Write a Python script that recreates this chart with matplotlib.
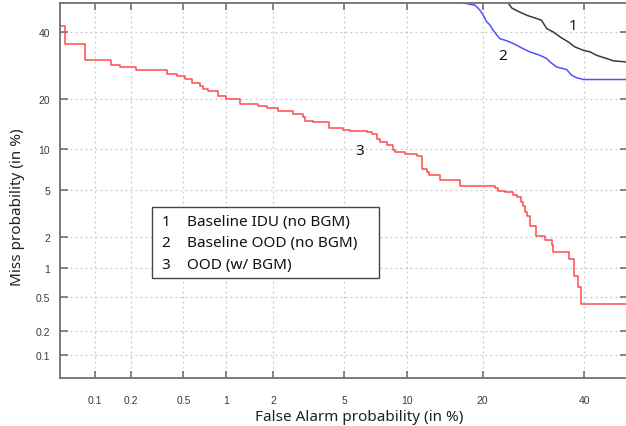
import numpy as np
import matplotlib
matplotlib.use('Agg')
import matplotlib.pyplot as plt
from matplotlib.patches import Rectangle
from matplotlib.ticker import NullLocator
from statistics import NormalDist

# DET curves, values in %
# 1: Baseline IDU (no BGM)
fa_idu = [24.4, 25.0, 26.2, 27.9, 29.8, 30.8, 31.9, 33.2, 34.7, 36.5, 37.9,
          39.8, 41.3, 42.8, 45.1, 46.6, 50]
miss_idu = [50, 48.3, 47.1, 45.7, 44.6, 44.0, 41.1, 40.0, 38.3, 36.6, 35.0,
            33.9, 33.4, 32.3, 31.3, 30.6, 30.2]

# 2: Baseline OOD (no BGM)
fa_ood = [17.0, 18.8, 19.55, 20.1, 20.6, 21.2, 21.75, 22.3, 22.9, 23.8, 24.7,
          26.0, 27.2, 28.5, 30.5, 31.9, 32.6, 34.0, 36.1, 37.2, 38.3, 39.8, 50]
miss_ood = [50, 49.2, 47.5, 45.7, 43.6, 42.3, 40.5, 39.1, 37.7, 37.2, 36.6,
            35.5, 34.4, 33.4, 32.3, 31.3, 30.2, 28.7, 28.0, 26.3, 25.6, 25.1, 25.1]

# 3: OOD (w/ BGM)
fa_bgm = [0.05, 0.055, 0.083, 0.137, 0.164, 0.22, 0.376, 0.45, 0.51, 0.58,
          0.66, 0.69, 0.75, 0.88, 1.0, 1.23, 1.6, 1.82, 2.13, 2.62,
          3.0, 3.06, 3.41, 4.17, 4.95, 5.36, 6.55, 6.88, 7.27, 7.54,
          8.1, 8.64, 8.85, 9.81, 11.04, 11.6, 12.17, 12.44, 13.8, 16.5,
          22.04, 22.6, 23.8, 25.2, 25.95, 26.76, 27.08, 27.53, 27.97, 28.5,
          29.7, 31.5, 32.9, 33.1, 36.6, 37.7, 38.7, 39.3, 50]
miss_bgm = [42.1, 35.8, 30.7, 29.2, 28.7, 27.7, 26.7, 26.1, 25.3, 24.1,
            23.3, 22.6, 21.9, 20.7, 20.0, 18.8, 18.3, 17.8, 17.1, 16.6,
            15.8, 15.1, 14.9, 13.6, 13.3, 13.0, 12.9, 12.5, 11.7, 11.2,
            10.6, 9.8, 9.5, 9.2, 9.0, 7.3, 6.9, 6.6, 6.0, 5.4,
            5.2, 4.98, 4.83, 4.6, 4.41, 4.01, 3.76, 3.35, 3.1, 2.53,
            2.05, 1.88, 1.68, 1.43, 1.23, 0.82, 0.63, 0.41, 0.41]

tick_vals = [0.1, 0.2, 0.5, 1, 2, 5, 10, 20, 40]
tick_labels = ['0.1', '0.2', '0.5', '1', '2', '5', '10', '20', '40']

curve_nums = ['1', '2', '3']
curve_names = ['Baseline IDU (no BGM)', 'Baseline OOD (no BGM)', 'OOD (w/ BGM)']
# where the curve numbers sit (FA %, Miss %)
num_fa = [37.6, 23.4, 6.0]
num_miss = [42.3, 32.3, 9.8]

# probit scale (normal deviate), no scipy needed
nd = NormalDist()

def _fwd(p):
    if np.isnan(p):
        return np.nan
    p = min(max(p / 100.0, 1e-9), 1 - 1e-9)
    return nd.inv_cdf(p)

def _inv(z):
    if np.isnan(z):
        return np.nan
    return nd.cdf(z) * 100.0

probit = np.vectorize(_fwd, otypes=[float])
unprobit = np.vectorize(_inv, otypes=[float])

plt.rcParams['font.family'] = ['Noto Sans', 'DejaVu Sans']

fig = plt.figure(figsize=(6.26, 4.27), dpi=100)
ax = fig.add_axes([60 / 626, 48 / 427, 568 / 626, 375 / 427])
ax.set_xscale('function', functions=(probit, unprobit))
ax.set_yscale('function', functions=(probit, unprobit))

ax.plot(fa_idu, miss_idu, color='#3a3a3a', lw=1.1)
ax.plot(fa_ood, miss_ood, color='#5050ff', lw=1.1)
ax.step(fa_bgm, miss_bgm, where='post', color='#ff4a4a', lw=1.1)

ax.set_xlim(0.05, 50)
ax.set_ylim(0.05, 50)
ax.set_xticks(tick_vals)
ax.set_xticklabels(tick_labels, family='Liberation Sans')
ax.set_yticks(tick_vals)
ax.set_yticklabels(tick_labels, family='Liberation Sans')
ax.xaxis.set_minor_locator(NullLocator())
ax.yaxis.set_minor_locator(NullLocator())

ax.grid(True, color='#c8c8c8', linestyle=(0, (1.5, 2.5)), lw=0.9)
ax.tick_params(direction='in', top=True, right=True, length=5, width=1.1,
               color='#666666', labelsize=7.5, labelcolor='#3a3a3a')
ax.tick_params(axis='x', pad=12)
ax.tick_params(axis='y', pad=7, length=5.5)
for s in ax.spines.values():
    s.set_color('#707070')
    s.set_linewidth(1.3)

ax.set_xlabel('False Alarm probability (in %)', fontsize=11, color='#222222')
ax.set_ylabel('Miss probability (in %)', fontsize=11, color='#222222')
ax.xaxis.set_label_coords((359.5 - 60) / 568, -0.104)
ax.xaxis.label.set_va('center')
ax.yaxis.set_label_coords((17.5 - 60) / 568, (379 - 207) / 375)
ax.yaxis.label.set_va('center')

for n, x, y in zip(curve_nums, num_fa, num_miss):
    ax.text(x, y, n, fontsize=11, ha='center', va='center', color='#111111')

# legend box
ax.add_patch(Rectangle((0.1614, 0.2659), 0.4008, 0.1893, transform=ax.transAxes,
                       facecolor='white', edgecolor='#444444', lw=1, zorder=5))
for i, (n, name) in enumerate(zip(curve_nums, curve_names)):
    yy = 0.4181 - i * 0.0571
    ax.text(0.179, yy, n, transform=ax.transAxes, fontsize=11, va='center',
            color='#111111', zorder=6)
    ax.text(0.2231, yy, name, transform=ax.transAxes, fontsize=11, va='center',
            color='#111111', zorder=6)

fig.savefig('out.png', dpi=100)
